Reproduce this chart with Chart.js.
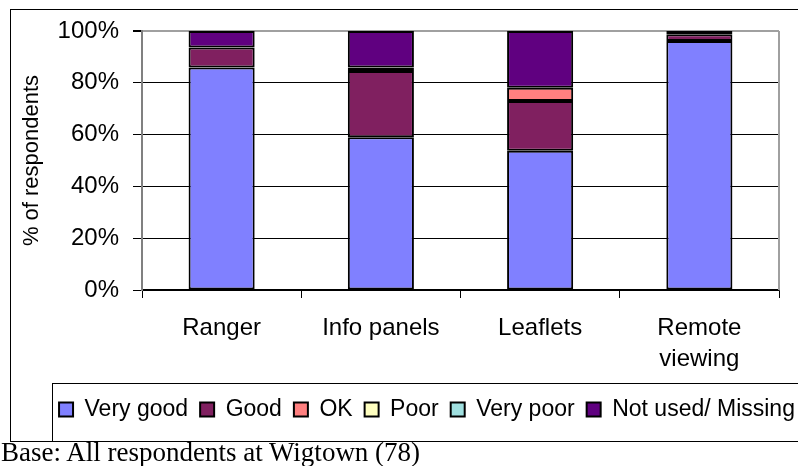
<!DOCTYPE html>
<html>
<head>
<meta charset="utf-8">
<script src="https://cdn.jsdelivr.net/npm/chart.js@4"></script>
<style>
  html, body { margin: 0; padding: 0; background: #fff; overflow: hidden; width: 798px; height: 466px; }
  #frame { position: absolute; left: 10px; top: 9px; width: 830px; height: 431px; border: 1px solid #000; border-right: none; }
  #legendBox { position: absolute; left: 52px; top: 383px; width: 800px; height: 57px; border: 1px solid #000; border-right: none; }
  #wrap { position: absolute; left: 11px; top: 10px; width: 810px; height: 431px; }
  #note { position: absolute; left: 1px; top: 437px; font: 27px "Liberation Serif", "Times New Roman", serif; line-height: 30px; color: #000; white-space: nowrap; }
</style>
</head>
<body>
<div id="frame"></div>
<div id="legendBox"></div>
<div id="wrap"><canvas id="chart" width="810" height="431"></canvas></div>
<div id="note">Base: All respondents at Wigtown (78)</div>
<script>
// categories
const categories = ['Ranger', 'Info panels', 'Leaflets', ['Remote', 'viewing']];

// % of respondents per rating
const veryGood = [85.9, 59.0, 53.8, 96.1];
const good     = [7.7, 25.6, 19.2, 2.6];
const ok       = [0, 1.3, 5.1, 0];
const poor     = [0, 0, 0, 0];
const veryPoor = [0, 0, 0, 0];
const notUsed  = [6.4, 14.1, 21.9, 1.3];

const yTicks = [0, 20, 40, 60, 80, 100];

// plot frame (grey right edge) like the spreadsheet chart
const frameRight = {
    id: 'frameRight',
    beforeDatasetsDraw(chart) {
        const a = chart.chartArea, c = chart.ctx;
        c.save();
        c.strokeStyle = '#a0a0a0';
        c.lineWidth = 2;
        c.beginPath();
        c.moveTo(a.right, a.top);
        c.lineTo(a.right, a.bottom);
        c.stroke();
        c.restore();
    },
    afterLayout(chart) {
        // nudge legend so it sits inside its box
        chart.legend.right += 64;
    }
};

function ds(label, data, color) {
    return {
        label: label,
        // empty segments are left out so they draw no outline
        data: data.map(v => v === 0 ? null : v),
        backgroundColor: color,
        borderColor: '#000',
        borderWidth: 2,
        borderSkipped: false
    };
}

new Chart(document.getElementById('chart').getContext('2d'), {
    type: 'bar',
    data: {
        labels: categories,
        datasets: [
            ds('Very good', veryGood, '#8080ff'),
            ds('Good', good, '#802060'),
            ds('OK', ok, '#ff8080'),
            ds('Poor', poor, '#ffffc0'),
            ds('Very poor', veryPoor, '#a0e0e0'),
            ds('Not used/ Missing', notUsed, '#600080')
        ]
    },
    options: {
        responsive: false,
        animation: false,
        categoryPercentage: 1,
        barPercentage: 0.415,
        layout: { padding: { top: 21, right: 42, bottom: 10, left: 0 } },
        plugins: {
            legend: {
                position: 'bottom',
                labels: {
                    boxWidth: 14,
                    boxHeight: 14,
                    padding: 12,
                    color: '#000',
                    font: { family: 'Liberation Sans, Arial, sans-serif', size: 23 }
                }
            },
            tooltip: { enabled: false }
        },
        scales: {
            x: {
                stacked: true,
                grid: { display: true, drawOnChartArea: false, offset: true, tickLength: 8, color: '#000', lineWidth: 1 },
                border: { color: '#000', width: 1.5 },
                ticks: {
                    color: '#000',
                    padding: 15,
                    maxRotation: 0,
                    font: { family: 'Liberation Sans, Arial, sans-serif', size: 24, lineHeight: 1.3 }
                },
                afterFit: (s) => { s.height = 96; }
            },
            y: {
                stacked: true,
                min: 0,
                max: 100,
                afterBuildTicks: (s) => { s.ticks = yTicks.map(v => ({ value: v })); },
                grid: {
                    color: (c) => c.tick && c.tick.value === 100 ? '#a0a0a0' : '#000',
                    lineWidth: (c) => c.tick && c.tick.value === 100 ? 2 : 1,
                    tickColor: '#000',
                    tickLength: 9
                },
                border: { color: '#808080', width: 2 },
                ticks: {
                    color: '#000',
                    padding: 14,
                    // small line height keeps the top label from pushing the plot down
                    font: { family: 'Liberation Sans, Arial, sans-serif', size: 24, lineHeight: 0.3 },
                    callback: (v) => v + '%'
                },
                title: {
                    display: true,
                    text: '% of respondents',
                    color: '#000',
                    padding: { top: 8, bottom: 0 },
                    font: { family: 'Liberation Sans, Arial, sans-serif', size: 22 }
                },
                afterFit: (s) => { s.width = 131; }
            }
        }
    },
    plugins: [frameRight]
});
</script>
</body>
</html>
